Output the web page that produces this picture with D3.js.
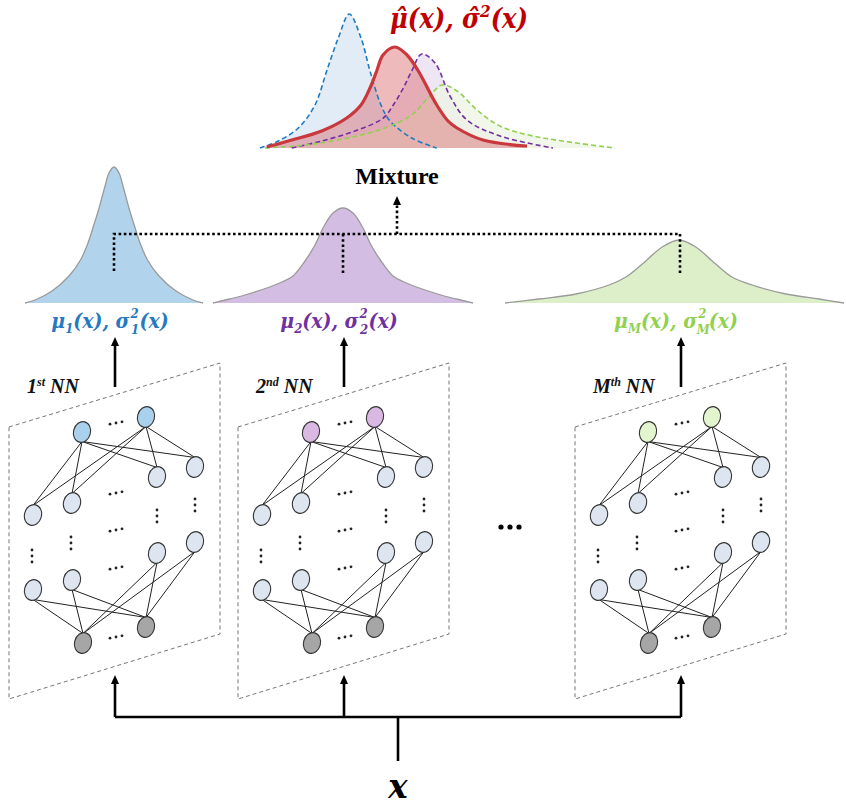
<!DOCTYPE html>
<html><head><meta charset="utf-8">
<script src="https://cdn.jsdelivr.net/npm/d3@7"></script>
<style>body{margin:0;background:#fff}svg{display:block}</style>
</head><body><svg id="c" width="846" height="807"></svg>
<script>
// ---------- data ----------
const panelNames = ["1", "2", "M"];
const panelSup = ["st", "nd", "th"];
// mixture components (top) : [x, density]
const topBlue   = [[1.0,0],[2.83,.07],[4.83,.20],[6.5,.43],[7.67,.77],[8.83,1.10],[9.93,1.34],[11.1,1.10],[12.0,.77],[13.1,.43],[14.0,.27],[16.17,.10],[18.67,0]];
const topPurple = [[4.17,0],[7.17,.07],[10.5,.17],[13.33,.30],[14.33,.43],[15.33,.60],[16.17,.77],[17.17,.94],[18.5,.85],[20.0,.52],[21.7,.28],[25.0,.12],[30.3,0]];
const topGreen  = [[1.5,0],[5.5,.03],[9.8,.10],[13.5,.20],[16.17,.33],[17.8,.50],[19.2,.63],[20.7,.57],[22.7,.38],[25.0,.22],[28.3,.12],[36.5,0]];
const topRed    = [[1.67,.01],[3.83,.07],[7.17,.17],[9.67,.30],[11.1,.43],[12.0,.60],[12.67,.77],[13.3,.93],[14.5,1.01],[15.7,.93],[16.83,.77],[18.67,.43],[19.8,.27],[20.7,.20],[23.3,.08],[27.7,.02]];
// per-network predictive densities : [offset from mean, density]
const midBlue   = [[-8.9,0],[-7.9,.03],[-6.2,.12],[-4.5,.27],[-3.35,.43],[-2.6,.60],[-2.05,.77],[-1.55,.93],[-0.95,1.15],[-0.5,1.30],[0,1.36],[0.5,1.30],[0.95,1.15],[1.55,.93],[2.05,.77],[2.6,.60],[3.35,.43],[4.5,.27],[6.2,.12],[7.9,.03],[8.9,0]];
const midPurple = [[-13,0],[-12.2,.02],[-9.8,.08],[-7.2,.165],[-6.0,.215],[-5.0,.27],[-3.8,.42],[-2.8,.58],[-2.0,.75],[-1.0,.90],[0,.95],[1.0,.90],[2.0,.75],[2.8,.58],[3.8,.42],[5.0,.27],[6.0,.215],[7.2,.165],[9.8,.08],[12.2,.02],[13,0]];
const midGreen  = [[-17.4,0],[-14,.04],[-10.3,.09],[-7.0,.18],[-5.3,.26],[-3.67,.39],[-1.67,.56],[0,.63],[1.67,.56],[3.67,.39],[5.3,.26],[7.3,.18],[10.7,.09],[14,.04],[16.5,0]];
const midData = [midBlue, midPurple, midGreen];

// ---------- layout / style ----------
const panelOffset = [0, 229, 566];
const labelColor = ["#2479c0", "#7030a0", "#92d050"];
const midFill = ["#b1d3ec", "#d4bde2", "#dcefc9"];
const outFill = ["#a9d0ec", "#d9b9e4", "#e3f5cf"];
const nodeLayout = {
  out: [[82,432],[146,417]],
  h1:  [[33,515],[72,503],[157,477],[195,467]],
  h2:  [[33,590],[72,580],[157,553],[195,542]],
  inp: [[83,643],[146,627]]
};
const hDots = [[116,423],[116,493],[116,530],[116,568],[116,637]];
const vDots = [[195,505],[157,516],[71,543],[32,556]];
const RX = 8.5, RY = 10.5;
const MATH = "'DejaVu Serif Condensed', 'DejaVu Serif', serif";
const CURVE = d3.curveCatmullRom.alpha(0.5);

const svg = d3.select("#c");

function arrowUp(g, x, yBottom, yTip, w) {
  g.append("line").attr("x1", x).attr("x2", x).attr("y1", yBottom).attr("y2", yTip + 7)
    .attr("stroke", "#000").attr("stroke-width", w);
  g.append("path").attr("d", `M${x},${yTip} L${x-4},${yTip+9} L${x+4},${yTip+9} Z`).attr("fill", "#000");
}

// ---------- top mixture ----------
const topX = d3.scaleLinear().domain([0, 37]).range([250, 620]);
const topY = d3.scaleLinear().domain([0, 1.4]).range([148, 8]);
const topArea = d3.area().x(d => topX(d[0])).y0(topY(0)).y1(d => topY(d[1])).curve(CURVE);
const topLine = d3.line().x(d => topX(d[0])).y(d => topY(d[1])).curve(CURVE);
const topComp = [
  {d: topBlue, fill: "#d7e6f4", stroke: "#1f7bc0"},
  {d: topPurple, fill: "#e8def1", stroke: "#7030a0"},
  {d: topGreen, fill: "#ecf4e1", stroke: "#92d050"}
];
topComp.forEach(c => svg.append("path").attr("d", topArea(c.d)).attr("fill", c.fill).attr("fill-opacity", 0.75));
svg.append("path").attr("d", topArea(topRed)).attr("fill", "#d9666a").attr("fill-opacity", 0.45);
topComp.forEach(c => svg.append("path").attr("d", topLine(c.d)).attr("fill", "none")
  .attr("stroke", c.stroke).attr("stroke-width", 1.6).attr("stroke-dasharray", "5,3"));
svg.append("path").attr("d", topLine(topRed)).attr("fill", "none").attr("stroke", "#c8383c").attr("stroke-width", 3.2);

svg.append("text").attr("x", 459).attr("y", 28).attr("text-anchor", "middle")
  .attr("font-family", MATH).attr("font-weight", "bold").attr("font-style", "italic")
  .attr("font-size", 27).attr("fill", "#c00000")
  .call(t => {
    t.append("tspan").text("\u03BC\u0302(x), \u03C3\u0302");
    t.append("tspan").attr("font-size", 17).attr("dy", -11).text("2");
    t.append("tspan").attr("dy", 11).text("(x)");
  });

// ---------- Mixture text & dotted connectors ----------
svg.append("text").attr("x", 397).attr("y", 184).attr("text-anchor", "middle")
  .attr("font-family", "Liberation Serif").attr("font-weight", "bold").attr("font-size", 24).text("Mixture");

// ---------- middle densities ----------
const midY = d3.scaleLinear().domain([0, 1.4]).range([303, 163]);
const cxs = panelNames.map((_, i) => 114 + panelOffset[i]);
midData.forEach((data, i) => {
  const cx = cxs[i] + (i === 2 ? -1 : 0);
  const mx = d3.scaleLinear().domain([-1, 1]).range([cx - 10, cx + 10]);
  const area = d3.area().x(d => mx(d[0])).y0(midY(0)).y1(d => midY(d[1])).curve(CURVE);
  const line = d3.line().x(d => mx(d[0])).y(d => midY(d[1])).curve(CURVE);
  svg.append("path").attr("d", area(data)).attr("fill", midFill[i]);
  svg.append("path").attr("d", line(data)).attr("fill", "none").attr("stroke", "#9a9a9a").attr("stroke-width", 1.3);
});

const dotted = {stroke: "#000", "stroke-width": 2.6, "stroke-dasharray": "2.6,2.6", fill: "none"};
function applyDotted(sel) { Object.entries(dotted).forEach(([k, v]) => sel.attr(k, v)); return sel; }
applyDotted(svg.append("path").attr("d", `M${cxs[0]},271 L${cxs[0]},234 L${cxs[2]},234`));
applyDotted(svg.append("path").attr("d", `M${cxs[1]},234 L${cxs[1]},273`));
applyDotted(svg.append("path").attr("d", `M${cxs[2]},234 L${cxs[2]},273`));
applyDotted(svg.append("path").attr("d", `M397,234 L397,205`));
svg.append("path").attr("d", "M397,196 L393,205 L401,205 Z").attr("fill", "#000");

// ---------- panels ----------
panelNames.forEach((name, i) => {
  const g = svg.append("g").attr("transform", `translate(${panelOffset[i]},0)`);
  // label
  const isM = name === "M";
  g.append("text").attr("x", 110).attr("y", 328).attr("text-anchor", "middle")
    .attr("font-family", MATH).attr("font-weight", "bold").attr("font-style", "italic")
    .attr("font-size", 21).attr("fill", labelColor[i])
    .call(t => {
      t.append("tspan").text("\u03BC");
      t.append("tspan").attr("font-size", 13).attr("dy", 5).text(name);
      t.append("tspan").attr("dy", -5).text("(x), \u03C3");
      t.append("tspan").attr("font-size", 13).attr("dy", -10).attr("dx", 1).text("2");
      t.append("tspan").attr("font-size", 13).attr("dy", 16).attr("dx", isM ? -9.5 : -7.8).text(name);
      t.append("tspan").attr("dy", -6).attr("dx", isM ? -1 : 0.5).text("(x)");
    });
  // arrow panel -> label
  arrowUp(g, 115, 387, 337, 2.6);
  // bottom arrow
  arrowUp(g, 115, 717, 675, 2.6);
  // parallelogram
  g.append("path").attr("d", "M9,427 L220,363 L220,634 L9,699 Z").attr("fill", "none")
    .attr("stroke", "#777").attr("stroke-width", 1).attr("stroke-dasharray", "4,3");
  // NN title
  g.append("text").attr("x", 27).attr("y", 393)
    .attr("font-family", "Liberation Serif").attr("font-weight", "bold").attr("font-style", "italic")
    .attr("font-size", 20).attr("fill", "#111")
    .call(t => {
      t.append("tspan").text(name);
      t.append("tspan").attr("font-size", 12).attr("dy", -7).text(panelSup[i]);
      t.append("tspan").attr("dy", 7).text(" NN");
    });
  // edges
  const edges = [];
  nodeLayout.out.forEach(a => nodeLayout.h1.forEach(b => edges.push([a[0], a[1] + RY - 1, b[0], b[1] - RY + 1])));
  nodeLayout.inp.forEach(a => nodeLayout.h2.forEach(b => edges.push([a[0], a[1] - RY + 1, b[0], b[1] + RY - 1])));
  g.selectAll(null).data(edges).join("line")
    .attr("x1", d => d[0]).attr("y1", d => d[1]).attr("x2", d => d[2]).attr("y2", d => d[3])
    .attr("stroke", "#222").attr("stroke-width", 1);
  // nodes
  const nodes = [];
  nodeLayout.out.forEach(p => nodes.push({p, f: outFill[i]}));
  nodeLayout.h1.forEach(p => nodes.push({p, f: "#dde5f1"}));
  nodeLayout.h2.forEach(p => nodes.push({p, f: "#dde5f1"}));
  nodeLayout.inp.forEach(p => nodes.push({p, f: "#a6a6a6"}));
  g.selectAll(null).data(nodes).join("ellipse")
    .attr("transform", d => `translate(${d.p[0]},${d.p[1]}) rotate(15)`)
    .attr("rx", RX).attr("ry", RY).attr("fill", d => d.f).attr("stroke", "#333").attr("stroke-width", 1.1);
  // dots
  hDots.forEach(([x, y]) => [-6, 0, 6].forEach(k =>
    g.append("circle").attr("cx", x + k).attr("cy", y - k * 0.2).attr("r", 1.4).attr("fill", "#222")));
  vDots.forEach(([x, y]) => [-6, 0, 6].forEach(k =>
    g.append("circle").attr("cx", x).attr("cy", y + k).attr("r", 1.4).attr("fill", "#222")));
});

// ---------- bottom input ----------
svg.append("path").attr("d", `M115,717 L681,717`).attr("stroke", "#000").attr("stroke-width", 2.6);
svg.append("line").attr("x1", 398).attr("x2", 398).attr("y1", 717).attr("y2", 761).attr("stroke", "#000").attr("stroke-width", 2.6);
svg.append("text").attr("x", 398).attr("y", 798).attr("text-anchor", "middle")
  .attr("font-family", MATH).attr("font-weight", "bold").attr("font-style", "italic")
  .attr("font-size", 36).text("x");
// ellipsis between panels
[-9, 0, 9].forEach(k => svg.append("circle").attr("cx", 510 + k).attr("cy", 527).attr("r", 2.6).attr("fill", "#000"));
</script></body></html>
